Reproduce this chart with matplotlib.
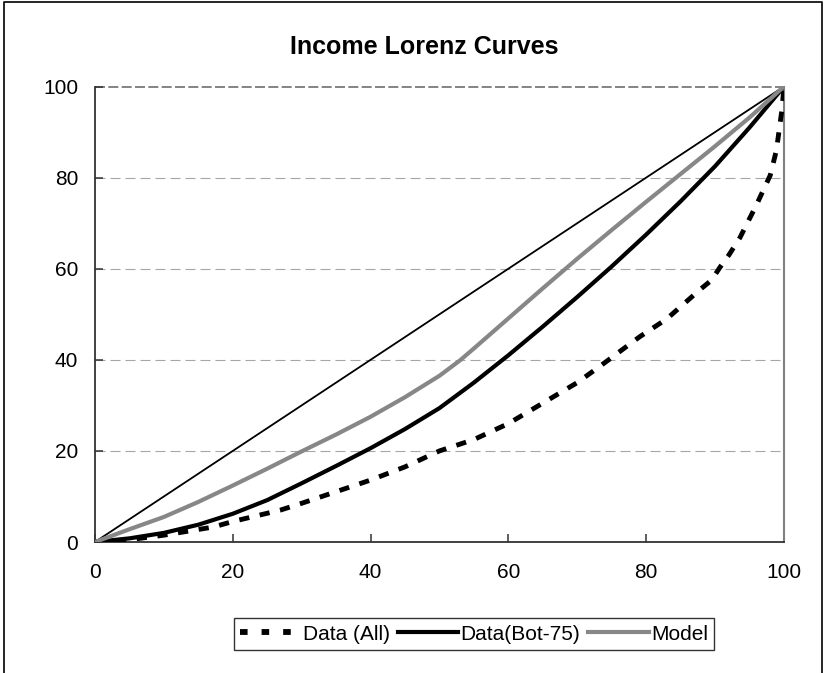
import matplotlib
matplotlib.use("Agg")
import matplotlib.pyplot as plt
from matplotlib.lines import Line2D

plt.rcParams["font.family"] = ["Liberation Sans", "DejaVu Sans"]

# cumulative population share (%) vs cumulative income share (%)
all_x = [0, 5, 10, 17.2, 20, 26.9, 30, 40, 45, 50, 55, 60, 65, 70, 73.3, 79, 83,
         87.8, 89.5, 90.7, 92, 93.6, 96, 98, 98.9, 99.7, 100]
all_y = [0, 0.5, 1.5, 3.3, 4.5, 7, 8.5, 13.6, 16.5, 20, 22.5, 26, 30.5, 35, 38.6, 45, 49,
         55.4, 57.5, 60.3, 63, 66.8, 74, 80.5, 86, 94.9, 100]

bot_x = [0, 5, 10, 15, 20, 25, 30, 35, 40, 45, 50, 55, 60, 65, 70, 75, 80, 85, 90, 95, 100]
bot_y = [0, 0.8, 2, 3.8, 6.2, 9.2, 12.9, 16.7, 20.6, 24.8, 29.4, 35, 41, 47.3, 53.8,
         60.5, 67.5, 74.8, 82.5, 91, 100]

model_x = [0, 5, 10, 15, 20, 25, 30, 35, 40, 45, 50, 53, 55, 60, 65, 70, 75, 80, 85, 90,
           95, 100]
model_y = [0, 2.8, 5.5, 8.8, 12.4, 16.1, 19.9, 23.6, 27.5, 31.8, 36.5, 39.9, 42.5, 49.1,
           55.7, 62.2, 68.5, 74.7, 80.8, 86.9, 93.2, 100]

equal_x = [0, 100]
equal_y = [0, 100]

ticks = [0, 20, 40, 60, 80, 100]
labels = ["Data (All)", "Data(Bot-75)", "Model"]

W, H = 824, 673
fig = plt.figure(figsize=(W / 100, H / 100), dpi=100)
ax = fig.add_axes([95 / W, 1 - 542 / H, 689 / W, 455.5 / H])

for y in ticks[1:-1]:
    ax.axhline(y, color="#a6a6a6", lw=0.8, ls=(0, (9, 4.5)), zorder=1)
ax.axhline(100, color="#6e6e6e", lw=1.2, ls=(0, (6, 2)), zorder=1, clip_on=False)

ax.plot(equal_x, equal_y, color="black", lw=1.3, zorder=2)
ax.plot(all_x, all_y, color="black", lw=3.5, ls=(0, (2.1, 2.2)),
        dash_capstyle="butt", zorder=3)
ax.plot(bot_x, bot_y, color="black", lw=3.0, zorder=4)
ax.plot(model_x, model_y, color="#878787", lw=3.0, zorder=5)

ax.set_xlim(0, 100)
ax.set_ylim(0, 100)
ax.set_xticks(ticks)
ax.set_yticks(ticks)
ax.tick_params(direction="in", length=6, width=1.1, labelsize=15, colors="#333333",
               labelcolor="black")
ax.tick_params(axis="y", pad=12, right=False)
ax.tick_params(axis="x", pad=15, top=False)
for side in ("left", "bottom"):
    ax.spines[side].set_color("#333333")
    ax.spines[side].set_linewidth(1.3)
ax.spines["right"].set_color("#808080")
ax.spines["right"].set_linewidth(1.5)
ax.spines["top"].set_visible(False)

fig.text(424 / W, 1 - 54 / H, "Income Lorenz Curves", ha="center", va="baseline",
         fontsize=18, fontweight="bold")

handles = [
    Line2D([], [], color="black", lw=4.2, ls=(0, (1.3, 2.4)), dash_capstyle="butt"),
    Line2D([], [], color="black", lw=3.0),
    Line2D([], [], color="#878787", lw=3.0),
]
fig.legend(handles, labels, loc="center", bbox_to_anchor=(474 / W, 1 - 634 / H),
           ncol=3, fontsize=15, frameon=True, fancybox=False, edgecolor="black",
           handlelength=2.9, handletextpad=0.1, columnspacing=0.4, borderpad=0.3,
           borderaxespad=0).get_frame().set_linewidth(1.0)

# outer chart frame (no bottom edge visible in the reference)
fig.add_artist(Line2D([4 / W, 4 / W, 822 / W, 822 / W], [0, 1 - 1.5 / H, 1 - 1.5 / H, 0],
                      color="black", lw=1.2, transform=fig.transFigure))

fig.savefig("out.png", dpi=100)
